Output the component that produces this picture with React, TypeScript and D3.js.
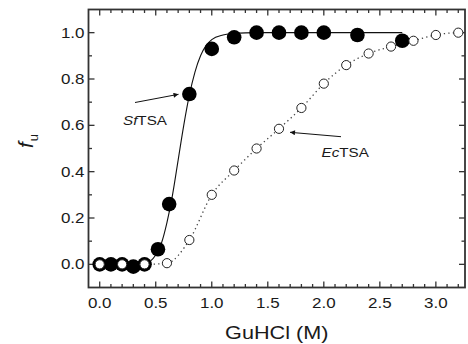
import { useEffect, useRef } from 'react'
import * as d3 from 'd3'

// SfTSA: filled circles
const sfX = [0.0, 0.1, 0.2, 0.3, 0.4, 0.52, 0.62, 0.8, 1.0, 1.2, 1.4, 1.6, 1.8, 2.0, 2.3, 2.7]
const sfY = [0.0, 0.0, 0.0, -0.01, 0.0, 0.065, 0.26, 0.735, 0.93, 0.98, 1.0, 1.0, 1.0, 1.0, 0.99, 0.965]

// SfTSA fitted curve
const sfFitX = [0.0, 0.4, 0.5, 0.55, 0.6, 0.65, 0.7, 0.75, 0.8, 0.85, 0.9, 0.95, 1.0, 1.1, 1.2, 1.4, 2.7]
const sfFitY = [0.0, 0.003, 0.04, 0.09, 0.18, 0.3, 0.45, 0.6, 0.73, 0.83, 0.9, 0.945, 0.97, 0.99, 0.997, 1.0, 1.0]

// EcTSA: open circles
const ecX = [0.0, 0.2, 0.4, 0.6, 0.8, 1.0, 1.2, 1.4, 1.6, 1.8, 2.0, 2.2, 2.4, 2.6, 2.8, 3.0, 3.2]
const ecY = [0.0, 0.0, 0.0, 0.005, 0.105, 0.3, 0.405, 0.5, 0.585, 0.675, 0.78, 0.86, 0.91, 0.94, 0.965, 0.99, 1.0]

const xTicks = [0.0, 0.5, 1.0, 1.5, 2.0, 2.5, 3.0]
const yTicks = [0.0, 0.2, 0.4, 0.6, 0.8, 1.0]

export default function App() {
  const svgRef = useRef<SVGSVGElement>(null)

  useEffect(() => {
    if (!svgRef.current) return
    const svg = d3.select(svgRef.current)
    svg.selectAll('*').remove()

    const width = 468
    const height = 344
    const left = 88.5
    const right = 465
    const top = 9.5
    const bottom = 287.5
    const font = 'Liberation Sans, Arial, sans-serif'
    const stretch = 1.17 // the source figure is a bit wider than tall

    const x = d3.scaleLinear().domain([-0.1, 3.26]).range([left, right])
    const y = d3.scaleLinear().domain([-0.1, 1.1]).range([bottom, top])

    svg.attr('width', width).attr('height', height)

    const axisColor = '#333'

    // text placed with a slight horizontal stretch
    const label = (tx: number, ty: number, size: number, anchor: string) =>
      svg
        .append('g')
        .attr('transform', `translate(${tx},${ty}) scale(${stretch},1)`)
        .append('text')
        .attr('text-anchor', anchor)
        .attr('font-family', font)
        .attr('font-size', size)
        .attr('fill', '#1a1a1a')

    // minor / major ticks, pointing inward on all sides
    const xMinor = d3.range(0, 33).map((i) => i / 10)
    const yMinor = d3.range(0, 11).map((i) => i / 10)
    const ticks = svg.append('g').attr('stroke', axisColor).attr('stroke-width', 1.3)
    xMinor.forEach((v) => {
      const major = Math.abs(v * 2 - Math.round(v * 2)) < 1e-6
      const len = major ? 6 : 3.5
      ticks.append('line').attr('x1', x(v)).attr('x2', x(v)).attr('y1', bottom).attr('y2', bottom - len)
      ticks.append('line').attr('x1', x(v)).attr('x2', x(v)).attr('y1', top).attr('y2', top + len)
    })
    yMinor.forEach((v) => {
      const major = Math.abs(v * 5 - Math.round(v * 5)) < 1e-6
      const len = major ? 6 : 3.5
      ticks.append('line').attr('x1', left).attr('x2', left + len).attr('y1', y(v)).attr('y2', y(v))
      ticks.append('line').attr('x1', right).attr('x2', right - len).attr('y1', y(v)).attr('y2', y(v))
    })

    // frame
    svg
      .append('rect')
      .attr('x', left)
      .attr('y', top)
      .attr('width', right - left)
      .attr('height', bottom - top)
      .attr('fill', 'none')
      .attr('stroke', axisColor)
      .attr('stroke-width', 1.8)

    // tick labels
    xTicks.forEach((d) => {
      label(x(d), 307.5, 14.5, 'middle').text(d.toFixed(1))
    })
    yTicks.forEach((d) => {
      label(84.5, y(d) + 5, 14.5, 'end').text(d.toFixed(1))
    })

    // axis titles
    label((left + right) / 2, 338.5, 18.5, 'middle').text('GuHCl (M)')

    const yl = svg
      .append('text')
      .attr('transform', 'translate(33,141) rotate(-90)')
      .attr('text-anchor', 'middle')
      .attr('font-family', font)
      .attr('fill', '#1a1a1a')
    yl.append('tspan').attr('font-size', 21).attr('font-style', 'italic').text('f')
    yl.append('tspan').attr('font-size', 13).attr('dy', 4.5).attr('dx', 1).text('u')

    // lines
    const sfFit = sfFitX.map((v, i) => [v, sfFitY[i]] as [number, number])
    const ec = ecX.map((v, i) => [v, ecY[i]] as [number, number])
    const line = d3
      .line<[number, number]>()
      .x((d) => x(d[0]))
      .y((d) => y(d[1]))
      .curve(d3.curveMonotoneX)

    svg
      .append('path')
      .datum(sfFit)
      .attr('fill', 'none')
      .attr('stroke', '#111')
      .attr('stroke-width', 1.1)
      .attr('d', line)

    svg
      .append('path')
      .datum([...ec, [3.26, 1.0] as [number, number]])
      .attr('fill', 'none')
      .attr('stroke', '#444')
      .attr('stroke-width', 1.3)
      .attr('stroke-dasharray', '1.3,3.2')
      .attr('d', line)

    // points
    svg
      .append('g')
      .selectAll('circle')
      .data(sfX.map((v, i) => [v, sfY[i]]))
      .join('circle')
      .attr('cx', (d) => x(d[0]))
      .attr('cy', (d) => y(d[1]))
      .attr('r', 7.3)
      .attr('fill', '#000')

    svg
      .append('g')
      .selectAll('circle')
      .data(ec)
      .join('circle')
      .attr('cx', (d) => x(d[0]))
      .attr('cy', (d) => y(d[1]))
      .attr('r', 4.6)
      .attr('fill', '#fff')
      .attr('stroke', '#222')
      .attr('stroke-width', 1)

    // annotations
    svg
      .append('defs')
      .append('marker')
      .attr('id', 'arr')
      .attr('viewBox', '0 0 10 10')
      .attr('refX', 10)
      .attr('refY', 5)
      .attr('markerWidth', 7)
      .attr('markerHeight', 5)
      .attr('orient', 'auto')
      .append('path')
      .attr('d', 'M0,0 L10,5 L0,10 Z')
      .attr('fill', '#111')

    svg
      .append('line')
      .attr('x1', 135)
      .attr('y1', 102.5)
      .attr('x2', 178.5)
      .attr('y2', 94.3)
      .attr('stroke', '#111')
      .attr('stroke-width', 1)
      .attr('marker-end', 'url(#arr)')

    svg
      .append('line')
      .attr('x1', 341)
      .attr('y1', 136.7)
      .attr('x2', 290)
      .attr('y2', 132.3)
      .attr('stroke', '#111')
      .attr('stroke-width', 1)
      .attr('marker-end', 'url(#arr)')

    const t1 = label(123, 125, 13, 'start')
    t1.append('tspan').attr('font-style', 'italic').text('Sf')
    t1.append('tspan').text('TSA')

    const t2 = label(321.5, 157.3, 13, 'start')
    t2.append('tspan').attr('font-style', 'italic').text('Ec')
    t2.append('tspan').text('TSA')
  }, [])

  return (
    <div style={{ position: 'absolute', left: 0, top: 0 }}>
      <svg ref={svgRef} style={{ display: 'block' }}></svg>
    </div>
  )
}
